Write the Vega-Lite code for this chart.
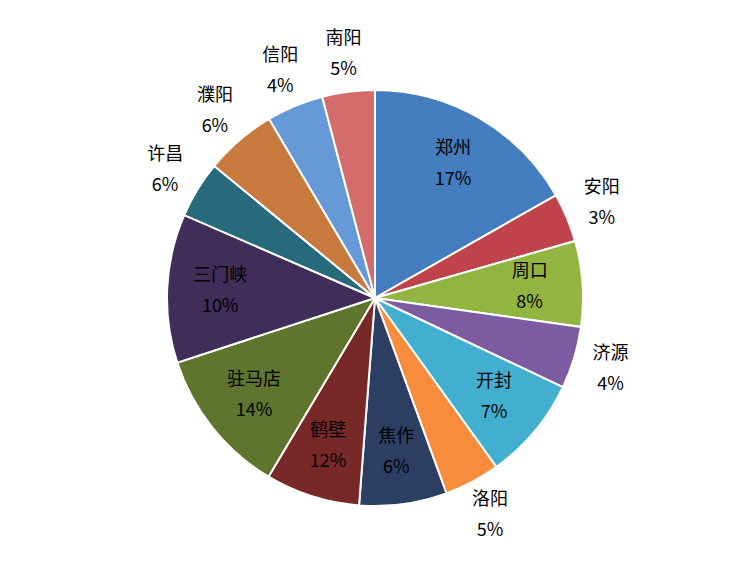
{
  "$schema": "https://vega.github.io/schema/vega-lite/v6.json",
  "autosize": {"type": "none"},
  "width": 750,
  "height": 540,
  "padding": {"left": 0, "top": 28, "right": 6, "bottom": 1},
  "background": "white",
  "config": {"view": {"stroke": null}, "text": {"font": "Noto Sans CJK SC", "fontSize": 18, "color": "#000000"}},
  "data": {
    "values": [
      {"name": "郑州", "pct": "17%", "value": 60.4},
      {"name": "安阳", "pct": "3%", "value": 13.7},
      {"name": "周口", "pct": "8%", "value": 23.9},
      {"name": "济源", "pct": "4%", "value": 17.4},
      {"name": "开封", "pct": "7%", "value": 28.9},
      {"name": "洛阳", "pct": "5%", "value": 15.6},
      {"name": "焦作", "pct": "6%", "value": 24.5},
      {"name": "鹤壁", "pct": "12%", "value": 26.4},
      {"name": "驻马店", "pct": "14%", "value": 41.1},
      {"name": "三门峡", "pct": "10%", "value": 41.6},
      {"name": "许昌", "pct": "6%", "value": 15.9},
      {"name": "濮阳", "pct": "6%", "value": 20.0},
      {"name": "信阳", "pct": "4%", "value": 15.9},
      {"name": "南阳", "pct": "5%", "value": 14.7}
    ]
  },
  "transform": [{"window": [{"op": "row_number", "as": "i"}]}],
  "encoding": {
    "theta": {"field": "value", "type": "quantitative", "stack": true},
    "order": {"field": "i", "type": "quantitative"}
  },
  "layer": [
    {
      "mark": {"type": "arc", "outerRadius": 208, "stroke": "white", "strokeWidth": 2},
      "encoding": {
        "color": {
          "field": "name", "type": "nominal", "legend": null,
          "scale": {
            "domain": ["郑州", "安阳", "周口", "济源", "开封", "洛阳", "焦作", "鹤壁", "驻马店", "三门峡", "许昌", "濮阳", "信阳", "南阳"],
            "range": ["#437DBF", "#C0424A", "#92B440", "#7C5BA0", "#43AFD0", "#F68C3C", "#2C3F63", "#772827", "#5F752E", "#402D59", "#266A7C", "#C87A3E", "#6699D8", "#D46C6C"]
          }
        }
      }
    },
    {
      "mark": {"type": "text", "radius": 155, "dy": -15},
      "encoding": {"text": {"condition": {"test": "datum.value >= 22", "field": "name"}, "value": ""}}
    },
    {
      "mark": {"type": "text", "radius": 155, "dy": 16},
      "encoding": {"text": {"condition": {"test": "datum.value >= 22", "field": "pct"}, "value": ""}}
    },
    {
      "mark": {"type": "text", "radius": 246, "dy": -15},
      "encoding": {"text": {"condition": {"test": "datum.value < 22", "field": "name"}, "value": ""}}
    },
    {
      "mark": {"type": "text", "radius": 246, "dy": 16},
      "encoding": {"text": {"condition": {"test": "datum.value < 22", "field": "pct"}, "value": ""}}
    }
  ]
}
